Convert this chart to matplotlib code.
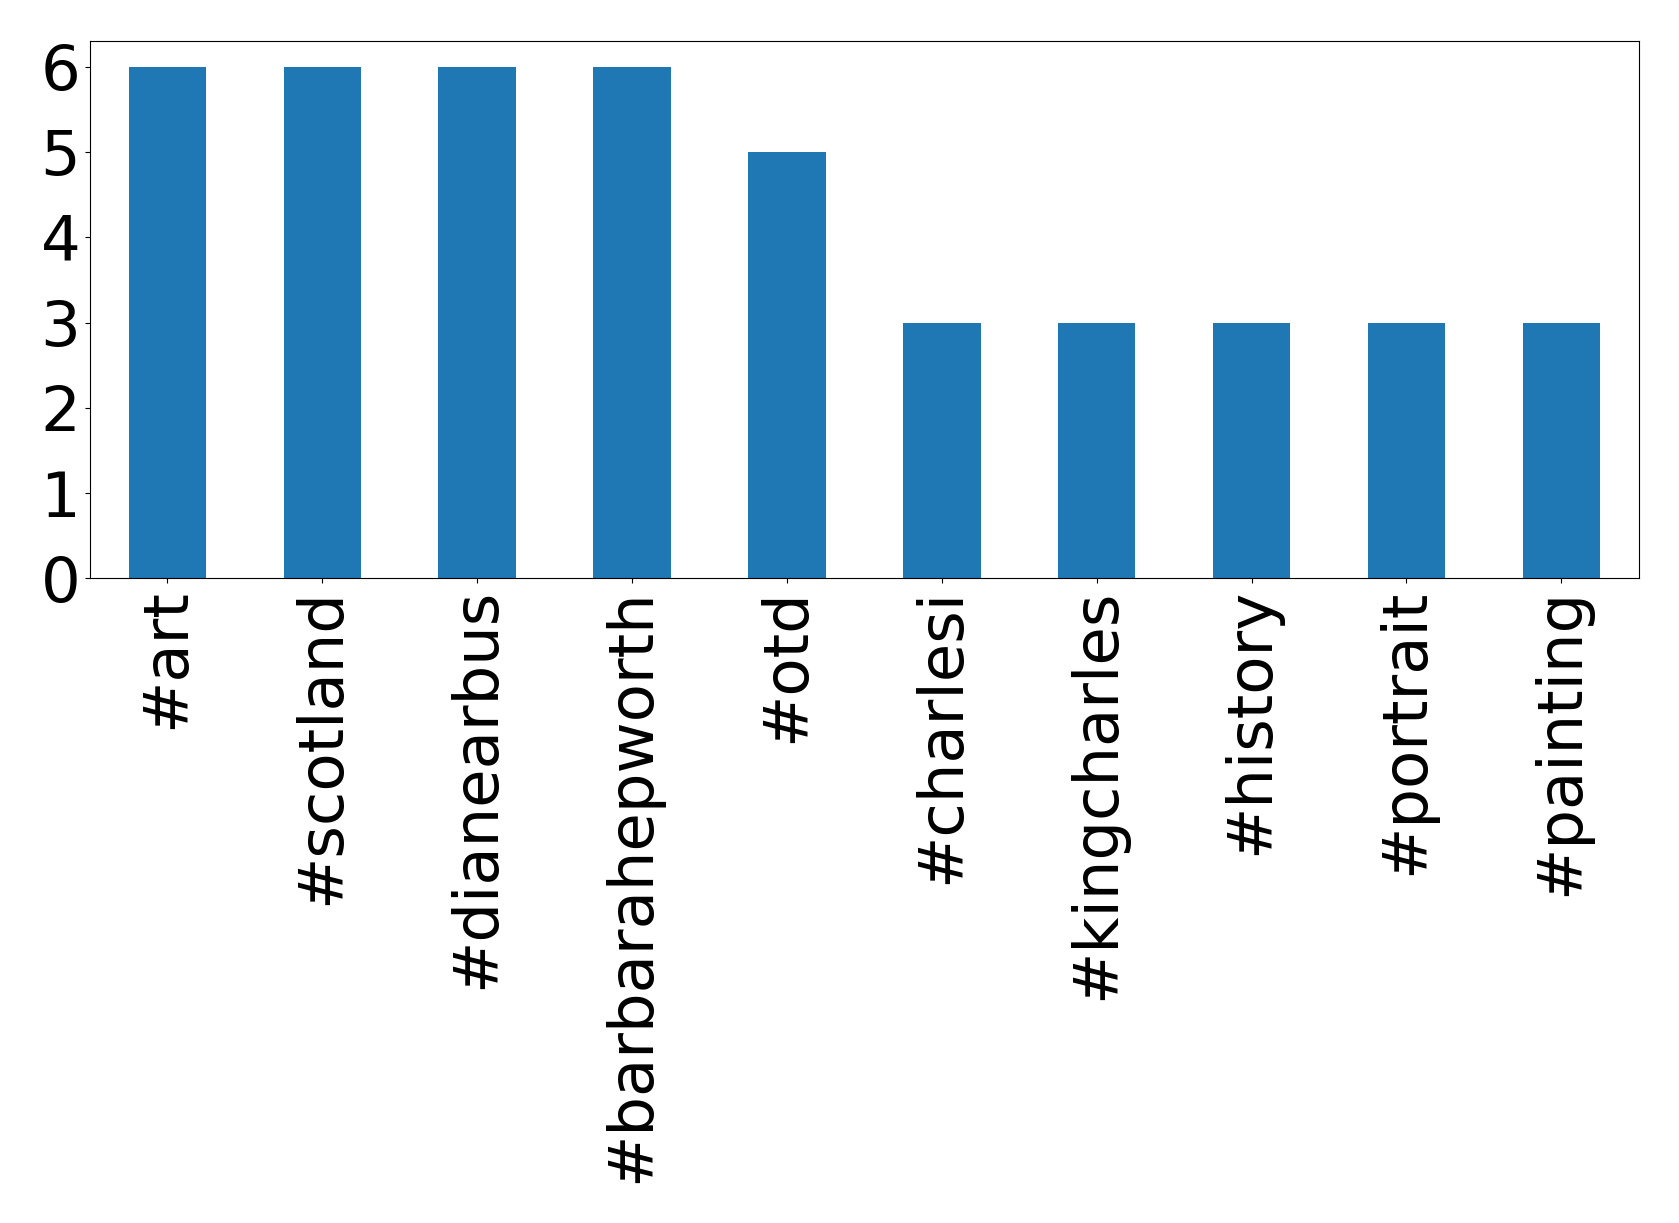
import matplotlib
matplotlib.use("Agg")
import matplotlib.pyplot as plt
import pandas as pd

# hashtag counts
hashtags = ["#art", "#scotland", "#dianearbus", "#barbarahepworth", "#otd",
            "#charlesi", "#kingcharles", "#history", "#portrait", "#painting"]
counts = [6, 6, 6, 6, 5, 3, 3, 3, 3, 3]

s = pd.Series(counts, index=hashtags)

fig, ax = plt.subplots(figsize=(16.79, 12.23), dpi=100)
s.plot(kind="bar", ax=ax, color="#1f77b4", rot=90)
ax.tick_params(axis="both", labelsize=45)
ax.set_yticks(range(0, 7))
fig.subplots_adjust(left=0.0536, right=0.976, top=0.9665, bottom=0.527)
fig.savefig("out.png")
